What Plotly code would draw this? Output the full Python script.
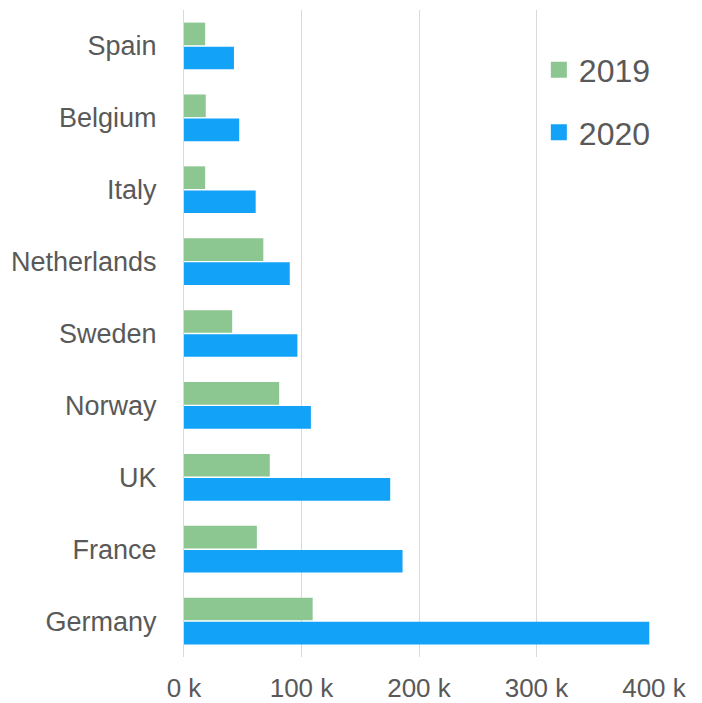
import plotly.graph_objects as go

countries = ["Spain", "Belgium", "Italy", "Netherlands", "Sweden", "Norway", "UK", "France", "Germany"]
values_2019 = [18000, 18500, 18000, 67500, 41000, 81000, 73000, 62000, 109500]
values_2020 = [42500, 47000, 61000, 90000, 96500, 108000, 175500, 186000, 396000]
tick_vals = [0, 100000, 200000, 300000, 400000]
tick_text = ["0 k", "100 k", "200 k", "300 k", "400 k"]

font_color = "#595959"
fam = "Liberation Sans, Arial, sans-serif"
green = "#8CC690"
blue = "#12A2F7"

fig = go.Figure()
fig.add_trace(go.Bar(
    y=countries, x=values_2019, name="2019", orientation="h",
    marker=dict(color=green, line=dict(width=0)), showlegend=False,
))
fig.add_trace(go.Bar(
    y=countries, x=values_2020, name="2020", orientation="h",
    marker=dict(color=blue, line=dict(width=0)), showlegend=False,
))
# legend entries with larger square swatches
fig.add_trace(go.Scatter(
    x=[None], y=[None], mode="markers", name="2019", legendgroup="a",
    marker=dict(symbol="square", size=18, color=green),
))
fig.add_trace(go.Scatter(
    x=[None], y=[None], mode="markers", name="2020", legendgroup="b",
    marker=dict(symbol="square", size=18, color=blue),
))

fig.update_layout(
    width=702, height=703,
    margin=dict(l=184, r=48, t=10, b=46, autoexpand=False),
    paper_bgcolor="white", plot_bgcolor="white",
    barmode="group", bargap=0.33, bargroupgap=0.06,
    font=dict(family=fam, color=font_color, size=26),
    showlegend=True,
    legend=dict(
        x=0.755, y=0.95, xanchor="left", yanchor="top",
        font=dict(size=32, color=font_color, family=fam),
        traceorder="grouped", tracegroupgap=18,
        bgcolor="rgba(0,0,0,0)", itemwidth=30,
    ),
    xaxis=dict(
        range=[0, 400000], tickvals=tick_vals, ticktext=tick_text,
        showgrid=True, gridcolor="#D9D9D9", gridwidth=1,
        zeroline=False, showline=False, ticks="",
        tickfont=dict(size=26, color=font_color), ticklabelstandoff=13,
        automargin=False,
    ),
    yaxis=dict(
        categoryorder="array", categoryarray=countries, autorange="reversed",
        showline=True, linecolor="#D9D9D9", linewidth=1,
        showgrid=False, ticks="", ticklabelstandoff=21,
        tickfont=dict(size=27, color=font_color), automargin=False,
    ),
)

fig.write_html("out.html")
